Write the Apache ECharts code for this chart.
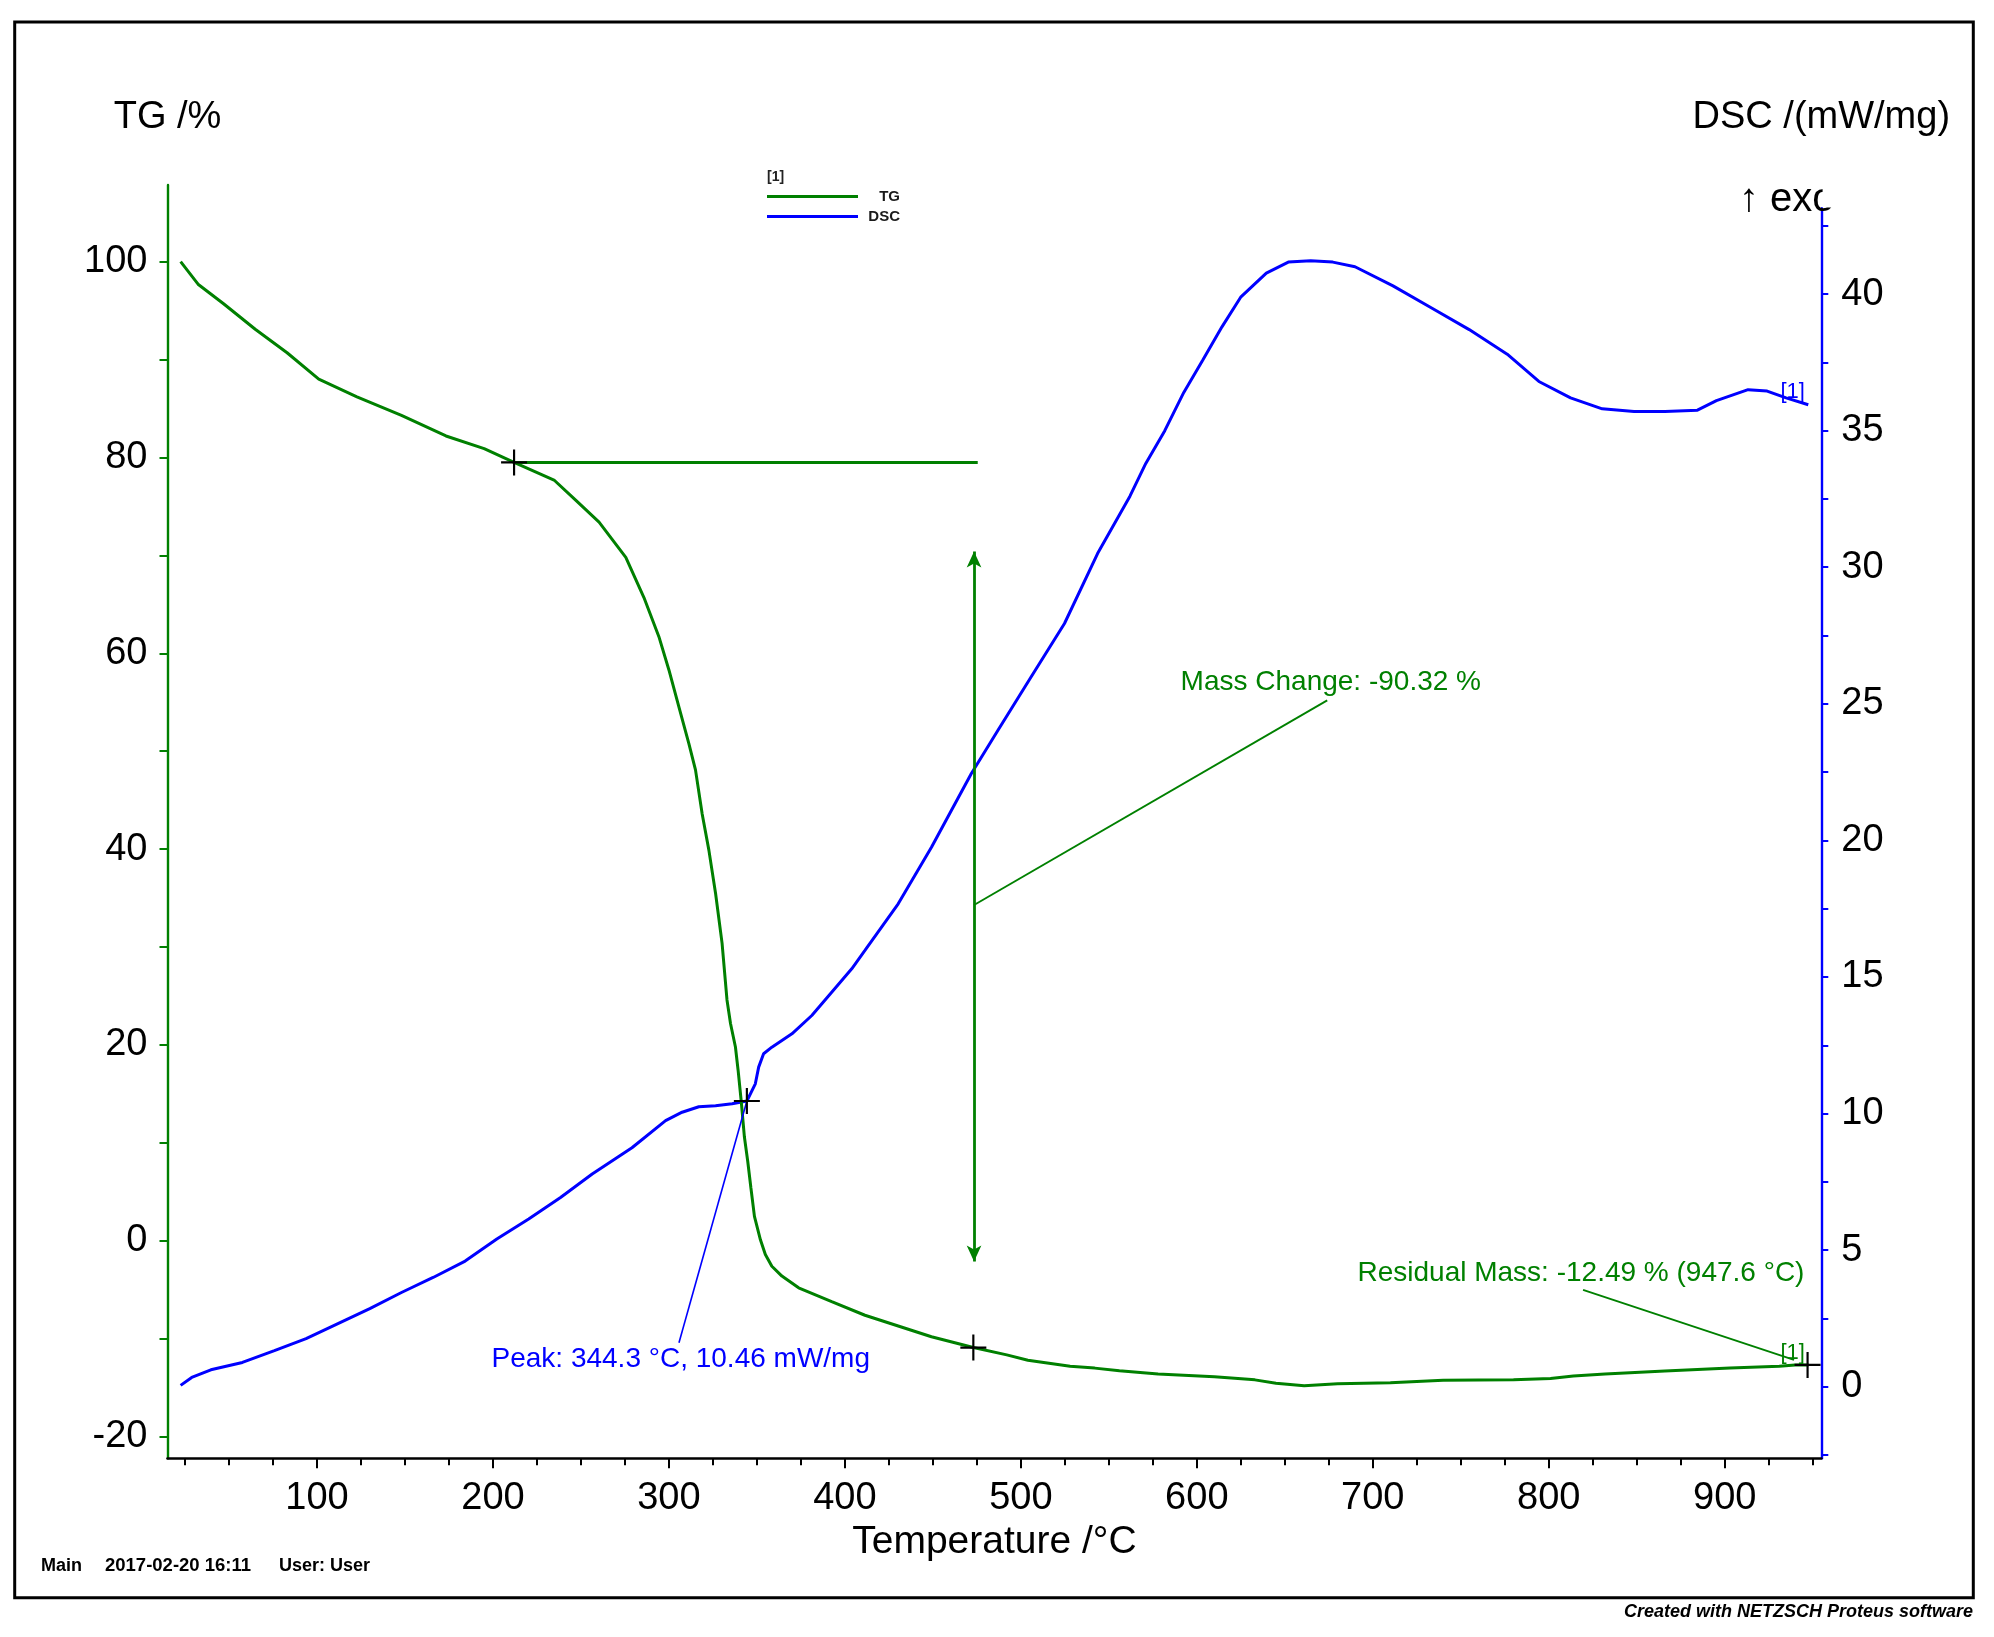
<!DOCTYPE html>
<html>
<head>
<meta charset="utf-8">
<script src="https://cdn.jsdelivr.net/npm/echarts@6/dist/echarts.min.js"></script>
<style>
html,body{margin:0;padding:0;background:#fff;}
#chart{width:1994px;height:1637px;}
</style>
</head>
<body>
<div id="chart"></div>
<script>
// ---------- data ----------
const tgTemp = [22.5, 32.4, 46.9, 64.9, 83, 101, 122.7, 148, 173.3, 195, 212, 234.7, 247.3, 260.3, 275.5, 285.8, 294.3, 300, 305.7, 311.3, 315.1, 318.9, 322.7, 326.5, 330.2, 333, 335, 337.8, 339.3, 341.2, 342.9, 344.8, 346.6, 348.6, 352, 354.8, 358.5, 364.2, 373.7, 392.5, 411.4, 430.3, 449.2, 473, 492, 504, 516, 528, 542, 556, 578, 610, 633, 645, 661, 680, 710, 740, 780, 801, 814, 832, 866, 903, 931, 940, 947.6];
const tgMass = [100.0, 97.7, 95.7, 93.1, 90.7, 88.0, 86.2, 84.3, 82.2, 80.9, 79.5, 77.7, 75.6, 73.4, 69.8, 65.7, 61.7, 58.3, 54.5, 50.8, 48.1, 43.6, 39.9, 35.5, 30.4, 24.6, 22.2, 19.8, 17.45, 14.05, 10.6, 8.1, 5.4, 2.5, 0.1, -1.4, -2.6, -3.6, -4.8, -6.2, -7.6, -8.7, -9.8, -10.9, -11.65, -12.2, -12.5, -12.8, -13.0, -13.26, -13.6, -13.87, -14.2, -14.55, -14.8, -14.6, -14.5, -14.25, -14.2, -14.05, -13.8, -13.6, -13.3, -13.0, -12.8, -12.67, -12.67];

const dscTemp = [22.5, 28.8, 39.7, 57.6, 75.8, 93.8, 111.9, 130, 148, 166, 184.2, 202.2, 220.3, 238.4, 256.4, 279, 298.1, 307.5, 317, 326.5, 335.9, 344.3, 349.1, 351, 353.8, 358.5, 369.9, 381.2, 392.5, 403.9, 411.4, 430.3, 449.2, 471.8, 487, 505.8, 524.8, 543.6, 562, 571, 581.8, 592.6, 603.5, 614.3, 625.1, 639.5, 652, 664.7, 677.3, 689.9, 711.5, 733.2, 754.8, 776.4, 794.4, 812.4, 830.4, 848.5, 866, 884.5, 895.3, 913.3, 924.1, 934.9, 947.5];
const dscSignal = [0.05, 0.34, 0.62, 0.89, 1.32, 1.76, 2.31, 2.86, 3.45, 4.0, 4.6, 5.41, 6.14, 6.93, 7.79, 8.75, 9.74, 10.05, 10.25, 10.29, 10.36, 10.46, 11.09, 11.7, 12.19, 12.43, 12.92, 13.59, 14.44, 15.3, 15.97, 17.68, 19.75, 22.44, 24.03, 25.98, 27.94, 30.5, 32.6, 33.8, 35.0, 36.4, 37.6, 38.8, 39.9, 40.77, 41.17, 41.22, 41.17, 41.0, 40.3, 39.5, 38.7, 37.8, 36.8, 36.2, 35.8, 35.7, 35.7, 35.75, 36.1, 36.5, 36.45, 36.2, 35.95];

// tick values / labels
const tempLabels = [100, 200, 300, 400, 500, 600, 700, 800, 900];
const tempMinorTicks = [25, 50, 75, 100, 125, 150, 175, 200, 225, 250, 275, 300, 325, 350, 375, 400, 425, 450, 475, 500, 525, 550, 575, 600, 625, 650, 675, 700, 725, 750, 775, 800, 825, 850, 875, 900, 925, 950];
const tgTicks = [-20, -10, 0, 10, 20, 30, 40, 50, 60, 70, 80, 90, 100];
const tgLabels = [-20, 0, 20, 40, 60, 80, 100];
const dscTicks = [-2.5, 0, 2.5, 5, 7.5, 10, 12.5, 15, 17.5, 20, 22.5, 25, 27.5, 30, 32.5, 35, 37.5, 40, 42.5];
const dscLabels = [0, 5, 10, 15, 20, 25, 30, 35, 40];

// axis ranges
const tempRange = [15.04, 954.9];
const tgRange = [-22.21, 107.83];
const dscRange = [-2.62, 43.14];

// annotations (data coordinates)
const onsetLine = [[212, 79.5], [475.5, 79.5]];
const massArrow = [[473.4, 70.4], [473.4, -2.1]];
const massLeader = [[473.4, 34.3], [674.1, 55.2]];
const residualLeader = [[819.5, -5.0], [939.4, -12.16]];
const peakLeader = [[344.3, 10.46], [305.7, 1.61]];
const tgCrosses = [[212, 79.5], [473, -10.9], [947.1, -12.67]];
const dscCrosses = [[344.3, 10.46]];
const massText = {coord: [590.5, 57.0], text: 'Mass Change: -90.32 %'};
const residualText = {coord: [945.6, -3.28], text: 'Residual Mass: -12.49 % (947.6 °C)'};
const peakText = {coord: [198.9, 1.0], text: 'Peak: 344.3 °C, 10.46 mW/mg'};
const tgTag = {coord: [945.9, -11.45], text: '[1]'};
const dscTag = {coord: [945.9, 36.42], text: '[1]'};

// ---------- chart ----------
const FONT = "'Liberation Sans', Arial, Helvetica, sans-serif";
const GREEN = '#008000';
const BLUE = '#0000ff';
const CROSS = 'path://M11,0h2v11h11v2h-11v11h-2v-11h-11v-2h11z';

const tgData = tgTemp.map((t, i) => [t, tgMass[i]]);
const dscData = dscTemp.map((t, i) => [t, dscSignal[i]]);

function textPoint(item, color, pos, size) {
  return {
    coord: item.coord, symbol: 'rect', symbolSize: 1,
    itemStyle: {color: 'rgba(0,0,0,0)'},
    label: {show: true, formatter: item.text, position: pos, distance: 0,
            color: color, fontSize: size, fontFamily: FONT}
  };
}
function crossPoint(c) {
  return {coord: c, symbol: CROSS, symbolSize: 26, itemStyle: {color: '#000'}, label: {show: false}};
}
function seg(p, width, color, sym, symSize) {
  const ls = {width: width, color: color, type: 'solid'};
  return [
    {coord: p[0], lineStyle: ls, symbol: sym || 'none', symbolSize: symSize || 10},
    {coord: p[1], lineStyle: ls, symbol: sym || 'none', symbolSize: symSize || 10}
  ];
}

const chart = echarts.init(document.getElementById('chart'), null, {renderer: 'canvas'});

const option = {
  animation: false,
  backgroundColor: '#fff',
  textStyle: {fontFamily: FONT},
  grid: [
    {left: 167.5, right: 172.7, top: 185, bottom: 178.7, outerBoundsMode: 'none'},
    {left: 167.5, right: 172.7, top: 208.3, bottom: 178.7, outerBoundsMode: 'none'}
  ],
  legend: {
    left: 767, top: 189, orient: 'vertical', icon: 'rect', padding: 0,
    itemWidth: 91, itemHeight: 3, itemGap: 5,
    selectedMode: false,
    data: ['TG', 'DSC'],
    formatter: n => '{a|' + n + '}',
    textStyle: {
      fontFamily: FONT, fontSize: 15, fontWeight: 'bold', color: '#1a1a1a',
      rich: {a: {width: 37, align: 'right', fontFamily: FONT, fontSize: 15, fontWeight: 'bold', color: '#1a1a1a'}}
    }
  },
  xAxis: [
    {
      gridIndex: 0, type: 'value', min: tempRange[0], max: tempRange[1], position: 'bottom',
      name: 'Temperature /°C', nameLocation: 'middle', nameGap: 64,
      nameTextStyle: {color: '#000', fontSize: 39, fontFamily: FONT},
      axisLine: {onZero: false, lineStyle: {color: '#000', width: 2.6}},
      axisTick: {show: true, customValues: tempMinorTicks, length: 7, lineStyle: {color: '#000', width: 2}},
      axisLabel: {customValues: tempLabels, margin: 21, color: '#000', fontSize: 38, fontFamily: FONT},
      splitLine: {show: false}
    },
    {
      gridIndex: 0, type: 'value', min: tempRange[0], max: tempRange[1], position: 'bottom', offset: 0,
      axisLine: {show: false, onZero: false},
      axisTick: {show: true, customValues: tempLabels, length: 10, lineStyle: {color: '#000', width: 2}},
      axisLabel: {show: false},
      splitLine: {show: false}
    },
    {
      gridIndex: 1, type: 'value', min: tempRange[0], max: tempRange[1], show: false,
      axisLine: {onZero: false}, splitLine: {show: false}
    }
  ],
  yAxis: [
    {
      gridIndex: 0, type: 'value', min: tgRange[0], max: tgRange[1], position: 'left',
      name: 'TG /%', nameLocation: 'end', nameGap: 48,
      nameTextStyle: {color: '#000', fontSize: 38, fontFamily: FONT},
      axisLine: {show: true, onZero: false, lineStyle: {color: GREEN, width: 2.4}},
      axisTick: {show: true, customValues: tgTicks, length: 8, lineStyle: {color: GREEN, width: 2}},
      axisLabel: {customValues: tgLabels, margin: 20, color: '#000', fontSize: 38, fontFamily: FONT},
      splitLine: {show: false}
    },
    {
      gridIndex: 1, type: 'value', min: dscRange[0], max: dscRange[1], position: 'right',
      name: 'DSC /(mW/mg)', nameLocation: 'end', nameGap: 72,
      nameTextStyle: {color: '#000', fontSize: 38, fontFamily: FONT},
      axisLine: {show: true, onZero: false, lineStyle: {color: BLUE, width: 2.4}},
      axisTick: {show: true, customValues: dscTicks, length: 7, lineStyle: {color: BLUE, width: 2}},
      axisLabel: {customValues: dscLabels, margin: 20, color: '#000', fontSize: 38, fontFamily: FONT},
      splitLine: {show: false}
    }
  ],
  series: [
    {
      name: 'TG', type: 'line', xAxisIndex: 0, yAxisIndex: 0, data: tgData,
      showSymbol: false, symbol: 'none', color: GREEN,
      lineStyle: {color: GREEN, width: 3}, silent: true, z: 3,
      markLine: {
        silent: true, animation: false, symbol: ['none', 'none'],
        label: {show: false}, lineStyle: {color: GREEN, type: 'solid'},
        data: [
          seg(onsetLine, 2.8, GREEN),
          seg(massArrow, 2.8, GREEN, 'arrow', [11, 16]),
          seg(massLeader, 1.9, GREEN),
          seg(residualLeader, 1.9, GREEN)
        ]
      },
      markPoint: {
        silent: true, animation: false,
        data: tgCrosses.map(crossPoint).concat([
          textPoint(massText, GREEN, 'right', 28),
          textPoint(residualText, GREEN, 'left', 28),
          textPoint(tgTag, GREEN, 'left', 22)
        ])
      }
    },
    {
      name: 'DSC', type: 'line', xAxisIndex: 2, yAxisIndex: 1, data: dscData,
      showSymbol: false, symbol: 'none', color: BLUE,
      lineStyle: {color: BLUE, width: 3}, silent: true, z: 2,
      markLine: {
        silent: true, animation: false, symbol: ['none', 'none'],
        label: {show: false}, lineStyle: {color: BLUE, type: 'solid'},
        data: [seg(peakLeader, 1.6, BLUE)]
      },
      markPoint: {
        silent: true, animation: false,
        data: dscCrosses.map(crossPoint).concat([
          textPoint(peakText, BLUE, 'right', 28),
          textPoint(dscTag, BLUE, 'left', 22)
        ])
      }
    }
  ],
  graphic: [
    {type: 'rect', silent: true, z: -10,
     shape: {x: 14.7, y: 22, width: 1958.6, height: 1575.7},
     style: {fill: 'none', stroke: '#000', lineWidth: 3}},
    {type: 'text', silent: true, z: 5, x: 1739, y: 200,
     style: {text: '↑ exo', fill: '#000', fontSize: 40, fontFamily: FONT, align: 'left', verticalAlign: 'middle'}},
    {type: 'rect', silent: true, z: 10,
     shape: {x: 1822.6, y: 170, width: 40, height: 37.5},
     style: {fill: '#fff', stroke: 'none'}},
    {type: 'text', silent: true, z: 5, x: 767, y: 177,
     style: {text: '[1]', fill: '#222', fontSize: 14, fontWeight: 'bold', fontFamily: FONT, align: 'left', verticalAlign: 'middle'}},
    {type: 'text', silent: true, z: 5, x: 41, y: 1566,
     style: {text: 'Main', fill: '#000', fontSize: 18, fontWeight: 'bold', fontFamily: FONT, align: 'left', verticalAlign: 'middle'}},
    {type: 'text', silent: true, z: 5, x: 105, y: 1566,
     style: {text: '2017-02-20 16:11', fill: '#000', fontSize: 18.5, fontWeight: 'bold', fontFamily: FONT, align: 'left', verticalAlign: 'middle'}},
    {type: 'text', silent: true, z: 5, x: 279, y: 1566,
     style: {text: 'User: User', fill: '#000', fontSize: 18, fontWeight: 'bold', fontFamily: FONT, align: 'left', verticalAlign: 'middle'}},
    {type: 'text', silent: true, z: 5, x: 1973, y: 1612,
     style: {text: 'Created with NETZSCH Proteus software', fill: '#000', fontSize: 18, fontWeight: 'bold', fontStyle: 'italic', fontFamily: FONT, align: 'right', verticalAlign: 'middle'}}
  ]
};

chart.setOption(option);
</script>
</body>
</html>
